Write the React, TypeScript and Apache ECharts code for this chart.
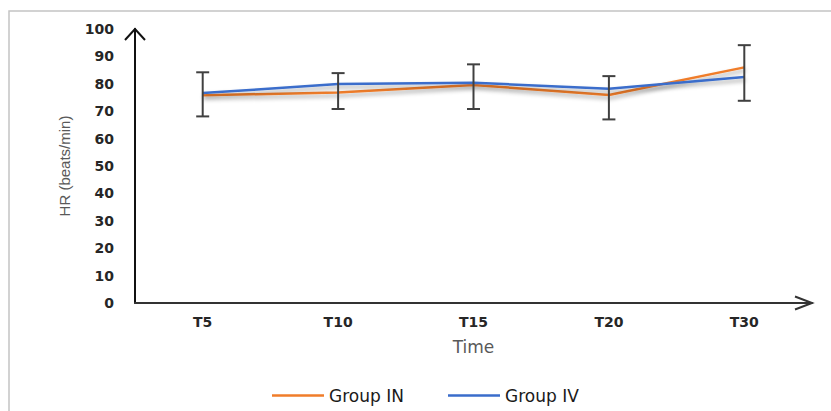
import React, { useEffect, useRef } from "react";
import * as echarts from "echarts";

const categories = ["T5", "T10", "T15", "T20", "T30"];
const groupIN = [75.8, 76.8, 79.6, 75.9, 86.0];
const groupIV = [76.6, 79.9, 80.4, 78.2, 82.5];
const errorLow = [68.1, 70.8, 70.8, 67.0, 73.8];
const errorHigh = [84.2, 83.9, 87.1, 82.8, 94.1];
const yTicks = [0, 100, 10];

const ORANGE = "#F07D2A";
const BLUE = "#3A6DCB";

export default function App() {
  const ref = useRef<HTMLDivElement>(null);
  useEffect(() => {
    if (!ref.current) return;
    const chart = echarts.init(ref.current, null, { renderer: "svg" });
    const lineShadow = {
      shadowColor: "rgba(0,0,0,0.35)",
      shadowBlur: 4,
      shadowOffsetY: 3,
      shadowOffsetX: 1,
    };
    const legendText = { fontFamily: "DejaVu Sans", fontSize: 17, color: "#1a1a1a" };
    chart.setOption({
      animation: false,
      backgroundColor: "#ffffff",
      grid: { left: 135, top: 29, width: 677, height: 274, containLabel: false },
      legend: [
        {
          data: ["Group IN"],
          left: 267,
          top: 382,
          icon: "rect",
          itemWidth: 52,
          itemHeight: 2.5,
          itemGap: 5,
          textStyle: legendText,
        },
        {
          data: ["Group IV"],
          left: 443,
          top: 382,
          icon: "rect",
          itemWidth: 52,
          itemHeight: 2.5,
          itemGap: 5,
          textStyle: legendText,
        },
      ],
      xAxis: {
        type: "category",
        data: categories,
        boundaryGap: true,
        name: "Time",
        nameLocation: "middle",
        nameGap: 35,
        nameTextStyle: { fontFamily: "DejaVu Sans", fontSize: 17, color: "#595959" },
        axisLine: { show: true, lineStyle: { color: "#333333", width: 2 } },
        axisTick: { show: false },
        axisLabel: {
          margin: 12,
          fontFamily: "DejaVu Sans",
          fontWeight: "bold",
          fontSize: 14,
          color: "#262626",
        },
        splitLine: { show: false },
      },
      yAxis: {
        type: "value",
        min: yTicks[0],
        max: yTicks[1],
        interval: yTicks[2],
        name: "HR (beats/min)",
        nameLocation: "middle",
        nameGap: 63,
        nameRotate: 90,
        nameTextStyle: { fontFamily: "Liberation Sans", fontSize: 15, color: "#595959" },
        axisLine: { show: true, lineStyle: { color: "#111111", width: 2 } },
        axisTick: { show: false },
        axisLabel: {
          margin: 21,
          fontFamily: "DejaVu Sans",
          fontWeight: "bold",
          fontSize: 14,
          color: "#262626",
        },
        splitLine: { show: false },
      },
      series: [
        {
          name: "Group IN",
          type: "line",
          data: groupIN,
          symbol: "none",
          color: ORANGE,
          lineStyle: { color: ORANGE, width: 2.5, ...lineShadow },
          z: 3,
        },
        {
          name: "Group IV",
          type: "line",
          data: groupIV,
          symbol: "none",
          color: BLUE,
          lineStyle: { color: BLUE, width: 2.5, ...lineShadow },
          z: 4,
        },
        {
          name: "error",
          type: "custom",
          data: categories.map((_, i) => [i, errorLow[i], errorHigh[i]]),
          encode: { x: 0, y: [1, 2] },
          z: 5,
          silent: true,
          renderItem: (params: any, api: any) => {
            const idx = api.value(0);
            const lo = api.coord([idx, api.value(1)]);
            const hi = api.coord([idx, api.value(2)]);
            const hw = 6.5;
            const style = { stroke: "#404040", lineWidth: 2 };
            return {
              type: "group",
              children: [
                { type: "line", shape: { x1: hi[0], y1: hi[1], x2: lo[0], y2: lo[1] }, style },
                { type: "line", shape: { x1: hi[0] - hw, y1: hi[1], x2: hi[0] + hw, y2: hi[1] }, style },
                { type: "line", shape: { x1: lo[0] - hw, y1: lo[1], x2: lo[0] + hw, y2: lo[1] }, style },
              ],
            };
          },
        },
      ],
      graphic: [
        {
          type: "rect",
          shape: { x: 9, y: 11, width: 840, height: 420 },
          style: { fill: "none", stroke: "#c4c4c4", lineWidth: 1.5 },
          silent: true,
        },
        {
          type: "polyline",
          shape: { points: [[125, 40], [135, 29], [145, 40]] },
          style: { fill: "none", stroke: "#111111", lineWidth: 2 },
          silent: true,
        },
        {
          type: "polyline",
          shape: { points: [[795, 296.5], [812, 303], [795, 309.5]] },
          style: { fill: "none", stroke: "#333333", lineWidth: 2 },
          silent: true,
        },
      ],
    });
    return () => chart.dispose();
  }, []);
  return (
    <div
      ref={ref}
      style={{ position: "absolute", left: 0, top: 0, width: 831, height: 411 }}
    />
  );
}
